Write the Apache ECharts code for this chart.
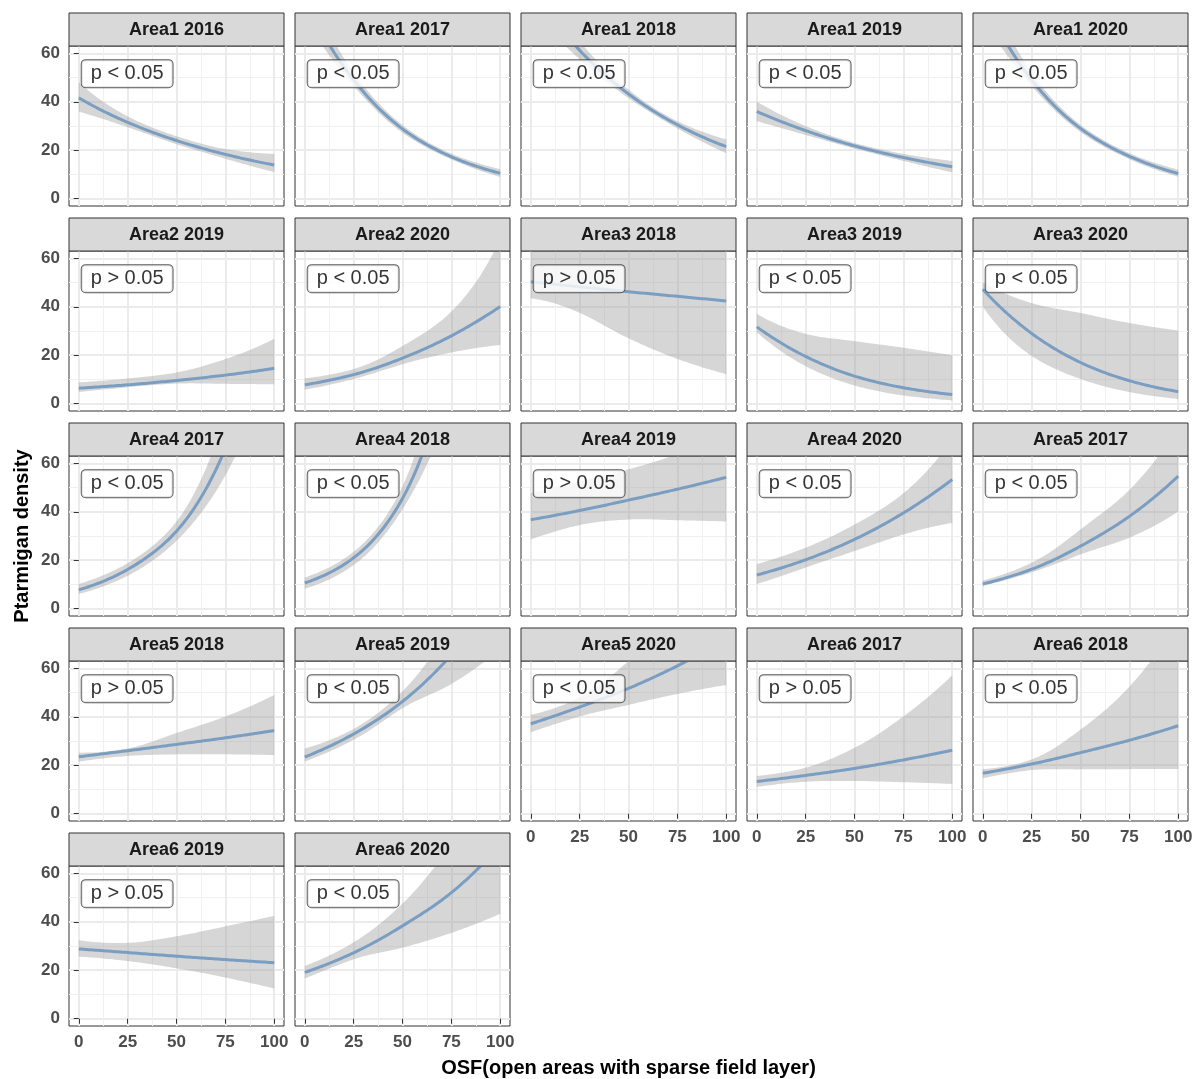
<!DOCTYPE html>
<html>
<head>
<meta charset="utf-8">
<title>Ptarmigan density vs OSF</title>
<script src="https://cdn.jsdelivr.net/npm/echarts@6/dist/echarts.min.js"></script>
<style>
  html, body { margin: 0; padding: 0; background: #ffffff; }
  #chart { width: 1200px; height: 1079px; }
</style>
</head>
<body>
<div id="chart"></div>
<script>
// ---- data ----
const osfValues = [0, 25, 50, 75, 100];
const xMajorTicks = [0, 25, 50, 75, 100];
const xMinorTicks = [12.5, 37.5, 62.5, 87.5];
const yMajorTicks = [0, 20, 40, 60];
const yMinorTicks = [10, 30, 50];

const panelTitles = [
  'Area1 2016', 'Area1 2017', 'Area1 2018', 'Area1 2019', 'Area1 2020',
  'Area2 2019', 'Area2 2020', 'Area3 2018', 'Area3 2019', 'Area3 2020',
  'Area4 2017', 'Area4 2018', 'Area4 2019', 'Area4 2020', 'Area5 2017',
  'Area5 2018', 'Area5 2019', 'Area5 2020', 'Area6 2017', 'Area6 2018',
  'Area6 2019', 'Area6 2020'
];

const pLabels = [
  'p < 0.05', 'p < 0.05', 'p < 0.05', 'p < 0.05', 'p < 0.05',
  'p > 0.05', 'p < 0.05', 'p > 0.05', 'p < 0.05', 'p < 0.05',
  'p < 0.05', 'p < 0.05', 'p > 0.05', 'p < 0.05', 'p < 0.05',
  'p > 0.05', 'p < 0.05', 'p < 0.05', 'p > 0.05', 'p < 0.05',
  'p > 0.05', 'p < 0.05'
];

// fitted density at OSF = 0, 25, 50, 75, 100
const fitValues = [
  [41.6, 31.5, 24.0, 18.3, 13.9],
  [82, 49, 28.8, 17.3, 10.5],
  [86.8, 61.2, 43.2, 30.5, 21.5],
  [36, 28.1, 21.8, 17.0, 13.2],
  [83, 49, 29, 17.5, 10.4],
  [6.4, 7.8, 9.6, 11.8, 14.6],
  [7.8, 12, 18.8, 28, 40.1],
  [50.3, 48.2, 46.2, 44.3, 42.4],
  [31.7, 19.5, 11.4, 6.6, 3.8],
  [47.2, 29, 17, 9.5, 5.0],
  [7.8, 16.2, 32, 66, 135],
  [10.6, 21, 45.5, 105, 240],
  [36.7, 40.5, 44.8, 49.3, 54.2],
  [13.9, 20.2, 28.6, 39.5, 53.3],
  [10.2, 16.3, 25.8, 38.1, 54.7],
  [23.5, 26, 28.6, 31.3, 34.3],
  [23.4, 32.9, 46.3, 65.5, 92],
  [37.1, 44, 51.7, 61, 72],
  [13.3, 15.8, 18.7, 22.2, 26.2],
  [16.7, 20.5, 25.2, 30.3, 36.3],
  [28.8, 27.3, 25.8, 24.4, 23.1],
  [19.1, 27.2, 38.3, 52, 72]
];

// lower confidence bound
const lowerValues = [
  [36, 29.5, 22.5, 16.5, 11],
  [74, 46.5, 27.2, 16.2, 9],
  [78, 57.5, 41.5, 29, 18.8],
  [32, 26.3, 20.7, 15.6, 10.9],
  [74, 46.5, 27.5, 16.3, 9.1],
  [4.8, 6.8, 8.3, 8.2, 8.0],
  [5.8, 10.2, 16.3, 21.1, 24.2],
  [43.5, 37.5, 27, 18.5, 12.2],
  [29.5, 15.5, 7.5, 3.4, 1.4],
  [40.1, 19.7, 10.2, 4.8, 2.0],
  [6.1, 13.6, 28, 55, 105],
  [8.2, 18, 41, 85, 170],
  [28.6, 34.5, 36.8, 36.5, 36],
  [10.2, 17, 23.8, 30.6, 35.4],
  [9.5, 15, 22.4, 29.3, 40.1],
  [21.5, 23.8, 24.5, 24.5, 24.2],
  [21.5, 30.5, 43.5, 53.5, 68],
  [33.6, 40.1, 44.9, 49.4, 53.1],
  [11.1, 13.2, 13.5, 13.0, 12.3],
  [14.6, 18.0, 18.3, 18.4, 18.4],
  [25.6, 23.8, 20.8, 17, 12.5],
  [16.6, 24.5, 29.3, 35.4, 43.3]
];

// upper confidence bound
const upperValues = [
  [48, 34, 25.8, 20.5, 18.5],
  [91, 52, 30.4, 18.6, 12.2],
  [97, 65, 45, 32, 24.5],
  [40.1, 30, 23, 18.5, 15.6],
  [93, 52, 30.5, 18.8, 12],
  [8.8, 10.4, 12.9, 18.4, 26.8],
  [10.5, 14.3, 23.8, 38, 68],
  [64, 70, 80, 95, 115],
  [37.1, 28.8, 25.8, 23.1, 20],
  [50, 41.5, 37.4, 33.3, 30.2],
  [10.2, 18.8, 36, 80, 175],
  [12.9, 23.5, 50.5, 130, 320],
  [47.6, 52.5, 57.5, 64, 75],
  [18.4, 25.2, 34.7, 47.6, 70],
  [11.6, 19, 32.7, 49, 75],
  [25.2, 26.9, 33.3, 40.1, 49],
  [26.9, 35, 50.5, 78, 120],
  [40.8, 48, 63, 85, 110],
  [15.6, 19, 27.2, 40.1, 57.1],
  [18.4, 22.4, 34.7, 52.4, 80],
  [32.4, 31.3, 34, 38.1, 42.4],
  [21.8, 31.5, 47.5, 72, 105]
];

// ---- layout ----
const NCOL = 5;
const PANEL_LEFT0 = 69, COL_STEP = 226, PANEL_W = 215;
const PANEL_TOP0 = 46, ROW_STEP = 205, PANEL_H = 160;
const STRIP_H = 33;
const FONT = '"Liberation Sans", Arial, Helvetica, sans-serif';
const X_RANGE = [-5, 105];
const Y_RANGE = [-3, 63];
const LABEL_AT = [1.5, 51.6];   // p-value label anchor, in data units
const LINE_COLOR = '#7A9EC2';
const RIBBON_COLOR = 'rgba(153,153,153,0.4)';

// Smooth curve through the given points: cubic Hermite on log(y),
// which follows the exponential shape of a log-link fit.
function sampleCurve(xs, ys, steps) {
  const n = xs.length;
  const L = ys.map(v => Math.log(v));
  const m = L.map((_, k) => {
    if (k === 0) return (-3 * L[0] + 4 * L[1] - L[2]) / 2;
    if (k === n - 1) return (3 * L[n - 1] - 4 * L[n - 2] + L[n - 3]) / 2;
    return (L[k + 1] - L[k - 1]) / 2;
  });
  const out = [];
  for (let k = 0; k < n - 1; k++) {
    for (let s = 0; s < steps; s++) {
      const t = s / steps, t2 = t * t, t3 = t2 * t;
      const v = (2 * t3 - 3 * t2 + 1) * L[k] + (t3 - 2 * t2 + t) * m[k] +
                (-2 * t3 + 3 * t2) * L[k + 1] + (t3 - t2) * m[k + 1];
      out.push([xs[k] + t * (xs[k + 1] - xs[k]), Math.exp(v)]);
    }
  }
  out.push([xs[n - 1], ys[n - 1]]);
  return out;
}

// Draws the confidence ribbon and the fitted curve of one panel.
function renderFit(params, api) {
  if (params.dataIndexInside !== 0) return null;
  const n = params.dataInsideLength;
  const xs = [], fit = [], lo = [], up = [];
  for (let j = 0; j < n; j++) {
    xs.push(api.value(0, j));
    fit.push(api.value(1, j));
    lo.push(api.value(2, j));
    up.push(api.value(3, j));
  }
  const toPx = p => api.coord(p);
  const upPts = sampleCurve(xs, up, 20).map(toPx);
  const loPts = sampleCurve(xs, lo, 20).map(toPx).reverse();
  const fitPts = sampleCurve(xs, fit, 20).map(toPx);
  const cs = params.coordSys;
  return {
    type: 'group',
    clipPath: { type: 'rect', shape: { x: cs.x, y: cs.y, width: cs.width, height: cs.height } },
    children: [
      { type: 'polygon', silent: true, shape: { points: upPts.concat(loPts) },
        style: { fill: RIBBON_COLOR, stroke: null } },
      { type: 'polyline', silent: true, shape: { points: fitPts },
        style: { stroke: LINE_COLOR, lineWidth: 3, fill: null, lineJoin: 'round', lineCap: 'butt' } }
    ]
  };
}

const grids = [], xAxes = [], yAxes = [], series = [], graphics = [];
const nPanels = panelTitles.length;

for (let i = 0; i < nPanels; i++) {
  const row = Math.floor(i / NCOL), col = i % NCOL;
  const left = PANEL_LEFT0 + col * COL_STEP;
  const top = PANEL_TOP0 + row * ROW_STEP;
  const showX = (i + NCOL) >= nPanels;
  const showY = col === 0;

  grids.push({
    left: left, top: top, width: PANEL_W, height: PANEL_H,
    show: true, backgroundColor: '#ffffff', borderColor: '#333333', borderWidth: 1,
    outerBoundsMode: 'none', containLabel: false
  });

  const tickLabel = { fontFamily: FONT, fontSize: 17, fontWeight: 'bold', color: '#4D4D4D' };

  // major x axis (labels + major grid)
  xAxes.push({
    gridIndex: i, type: 'value', min: X_RANGE[0], max: X_RANGE[1], position: 'bottom',
    axisLine: { show: false },
    axisTick: { show: showX, customValues: xMajorTicks, length: 5, lineStyle: { color: '#333333', width: 1 } },
    axisLabel: Object.assign({ show: showX, customValues: xMajorTicks, margin: 8 }, tickLabel),
    splitLine: { show: true, lineStyle: { color: '#EBEBEB', width: 2 } }
  });
  // minor x grid
  xAxes.push({
    gridIndex: i, type: 'value', min: X_RANGE[0], max: X_RANGE[1], position: 'top',
    axisLine: { show: false },
    axisTick: { show: false, customValues: xMinorTicks },
    axisLabel: { show: false, customValues: xMinorTicks },
    splitLine: { show: true, lineStyle: { color: '#F0F0F0', width: 1 } }
  });
  // major y axis
  yAxes.push({
    gridIndex: i, type: 'value', min: Y_RANGE[0], max: Y_RANGE[1], position: 'left',
    axisLine: { show: false },
    axisTick: { show: showY, customValues: yMajorTicks, length: 5, lineStyle: { color: '#333333', width: 1 } },
    axisLabel: Object.assign({ show: showY, customValues: yMajorTicks, margin: 9 }, tickLabel),
    splitLine: { show: true, lineStyle: { color: '#EBEBEB', width: 2 } }
  });
  // minor y grid
  yAxes.push({
    gridIndex: i, type: 'value', min: Y_RANGE[0], max: Y_RANGE[1], position: 'right',
    axisLine: { show: false },
    axisTick: { show: false, customValues: yMinorTicks },
    axisLabel: { show: false, customValues: yMinorTicks },
    splitLine: { show: true, lineStyle: { color: '#F0F0F0', width: 1 } }
  });

  const xi = 2 * i, yi = 2 * i;

  // ribbon + fitted curve
  series.push({
    type: 'custom', xAxisIndex: xi, yAxisIndex: yi, clip: true, silent: true, z: 2,
    data: osfValues.map((x, k) => [x, fitValues[i][k], lowerValues[i][k], upperValues[i][k]]),
    encode: { x: 0, y: 1 },
    renderItem: renderFit
  });
  // p-value label
  series.push({
    type: 'scatter', xAxisIndex: xi, yAxisIndex: yi, data: [LABEL_AT],
    symbolSize: 0, silent: true, z: 5,
    label: {
      show: true, position: 'right', distance: 0, formatter: pLabels[i],
      fontFamily: FONT, fontSize: 20, color: '#000000',
      backgroundColor: '#ffffff', borderColor: '#333333', borderWidth: 1, borderRadius: 4,
      padding: [4, 9, 3, 9]
    }
  });

  // facet strip
  graphics.push({
    type: 'rect', silent: true, z: 10,
    shape: { x: left, y: top - STRIP_H, width: PANEL_W, height: STRIP_H },
    style: { fill: '#D9D9D9', stroke: '#333333', lineWidth: 1 }
  });
  graphics.push({
    type: 'text', silent: true, z: 11,
    x: left + PANEL_W / 2, y: top - STRIP_H / 2 + 1,
    style: {
      text: panelTitles[i], align: 'center', verticalAlign: 'middle',
      font: 'bold 18px ' + FONT, fill: '#1A1A1A'
    }
  });
}

// axis titles
graphics.push({
  type: 'text', silent: true, z: 11,
  x: 22, y: 536, rotation: Math.PI / 2,
  style: {
    text: 'Ptarmigan density', align: 'center', verticalAlign: 'middle',
    font: 'bold 20px ' + FONT, fill: '#000000'
  }
});
graphics.push({
  type: 'text', silent: true, z: 11,
  x: PANEL_LEFT0 + (COL_STEP * (NCOL - 1) + PANEL_W) / 2, y: 1068,
  style: {
    text: 'OSF(open areas with sparse field layer)', align: 'center', verticalAlign: 'middle',
    font: 'bold 20px ' + FONT, fill: '#000000'
  }
});

const chart = echarts.init(document.getElementById('chart'), null, { renderer: 'canvas' });
chart.setOption({
  animation: false,
  backgroundColor: '#ffffff',
  grid: grids,
  xAxis: xAxes,
  yAxis: yAxes,
  series: series,
  graphic: graphics
});
</script>
</body>
</html>
